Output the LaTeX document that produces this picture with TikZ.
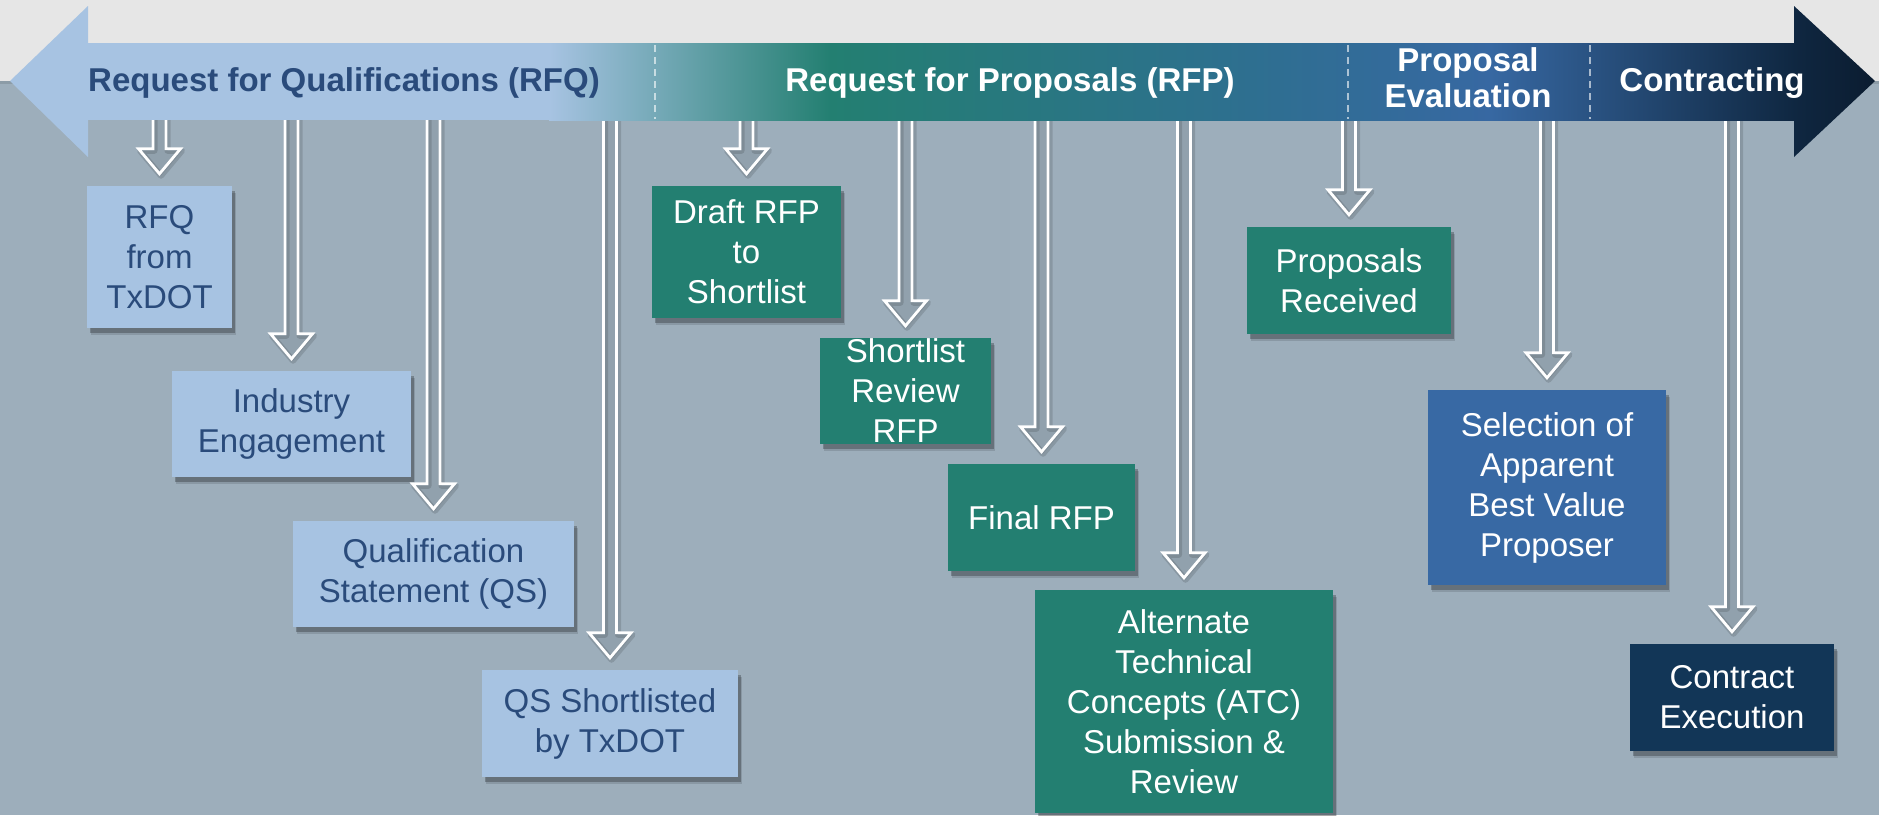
\documentclass[tikz,border=0pt]{standalone}
\usepackage{fontspec}
\setmainfont{Liberation Sans}
\usetikzlibrary{shadows,calc}
\definecolor{topgray}{HTML}{E6E6E6}
\definecolor{slate}{HTML}{9DAEBB}
\definecolor{lb}{HTML}{A7C3E2}
\definecolor{lbtext}{HTML}{2A4B7B}
\definecolor{teal}{HTML}{237F71}
\definecolor{steel}{HTML}{2E6F90}
\definecolor{evalb}{HTML}{3768A2}
\definecolor{navy}{HTML}{0F2741}
\definecolor{tipnavy}{HTML}{0B1C30}
\definecolor{selb}{HTML}{3869A4}
\definecolor{contr}{HTML}{123657}
\tikzset{
  boxbase/.style={rectangle, inner sep=0pt,
    drop shadow={shadow xshift=4pt, shadow yshift=-7pt, opacity=0.12, fill=black},
    drop shadow={shadow xshift=2.5pt, shadow yshift=-4.5pt, opacity=0.25, fill=black}},
  lbbox/.style={boxbase, fill=lb},
  tealbox/.style={boxbase, fill=teal},
  selbox/.style={boxbase, fill=selb},
  contrbox/.style={boxbase, fill=contr},
  btext/.style={align=center, font=\fontsize{33}{40}\selectfont},
  lbtxt/.style={btext, text=lbtext},
  wtxt/.style={btext, text=white},
  bandtxt/.style={font=\fontsize{33}{36}\selectfont\bfseries, align=center},
  ashadow/.style={draw=black, draw opacity=0.13, line width=6pt, fill=black, fill opacity=0.07, line join=round},
  aline/.style={draw=white, line width=2.8pt, line join=miter},
  sep/.style={draw=white, draw opacity=0.6, line width=1.3pt, dash pattern=on 7pt off 5pt}
}
\newcommand\harrow[1]{%
  \coordinate (#1t) at ([yshift=12pt]#1.north);
  \coordinate (#1s) at (#1.north |- bandb);
  \begin{scope}[transform canvas={xshift=1.5pt,yshift=-2pt}]
  \draw[ashadow] ([xshift=-6.5pt]#1s) -- ([xshift=-6.5pt,yshift=25pt]#1t) -- ([xshift=-21pt,yshift=25pt]#1t) -- (#1t) -- ([xshift=21pt,yshift=25pt]#1t) -- ([xshift=6.5pt,yshift=25pt]#1t) -- ([xshift=6.5pt]#1s) -- cycle;
  \end{scope}
  \draw[aline] ([xshift=-6.5pt]#1s) -- ([xshift=-6.5pt,yshift=25pt]#1t) -- ([xshift=-21pt,yshift=25pt]#1t) -- (#1t) -- ([xshift=21pt,yshift=25pt]#1t) -- ([xshift=6.5pt,yshift=25pt]#1t) -- ([xshift=6.5pt]#1s);
}
\begin{document}
\begin{tikzpicture}[x=1pt,y=-1pt]
\useasboundingbox (0,0) rectangle (1879,815);
% background
\fill[topgray] (0,0) rectangle (1879,81);
\fill[slate] (0,81) rectangle (1879,815);
\fill[black,opacity=0.1] (0,81) rectangle (1879,84);
\coordinate (bandb) at (0,110);

% boxes
\node[lbbox, minimum width=145pt, minimum height=142pt] (b1) at (159.5,257) {};
\node[lbbox, minimum width=239pt, minimum height=106pt] (b2) at (291.5,424) {};
\node[lbbox, minimum width=281pt, minimum height=106pt] (b3) at (433.5,574) {};
\node[lbbox, minimum width=256pt, minimum height=107pt] (b4) at (610,723.5) {};
\node[tealbox, minimum width=189pt, minimum height=132pt] (b5) at (746.5,252) {};
\node[tealbox, minimum width=171pt, minimum height=106pt] (b6) at (905.5,391) {};
\node[tealbox, minimum width=187pt, minimum height=107pt] (b7) at (1041.5,517.5) {};
\node[tealbox, minimum width=298pt, minimum height=223pt] (b8) at (1184,701.5) {};
\node[tealbox, minimum width=204pt, minimum height=107pt] (b9) at (1349,280.5) {};
\node[selbox, minimum width=238pt, minimum height=195pt] (b10) at (1547,487.5) {};
\node[contrbox, minimum width=204pt, minimum height=107pt] (b11) at (1732,697.5) {};

% box texts
\node[lbtxt] (t1) at (b1.center) {RFQ\\from\\TxDOT};
\node[lbtxt] (t2) at (b2.center) {Industry\\Engagement};
\node[lbtxt] (t3) at (b3.center) {Qualification\\Statement (QS)};
\node[lbtxt] (t4) at (b4.center) {QS Shortlisted\\by TxDOT};
\node[wtxt] (t5) at (b5.center) {Draft RFP\\to\\Shortlist};
\node[wtxt] (t6) at (b6.center) {Shortlist\\Review\\RFP};
\node[wtxt] (t7) at (b7.center) {Final RFP};
\node[wtxt] (t8) at (b8.center) {Alternate\\Technical\\Concepts (ATC)\\Submission \&\\Review};
\node[wtxt] (t9) at (b9.center) {Proposals\\Received};
\node[wtxt] (t10) at (b10.center) {Selection of\\Apparent\\Best Value\\Proposer};
\node[wtxt] (t11) at (b11.center) {Contract\\Execution};

% hollow arrows
\harrow{b1}\harrow{b2}\harrow{b3}\harrow{b4}\harrow{b5}\harrow{b6}
\harrow{b7}\harrow{b8}\harrow{b9}\harrow{b10}\harrow{b11}

% band
\fill[lb] (10,81) -- (88,6) -- (88,157) -- cycle;
\fill[lb] (87,43) rectangle (550,120);
\shade[left color=lb, right color=teal] (549,43) rectangle (831,120);
\shade[left color=teal, right color=steel] (830,43) rectangle (1251,120);
\shade[left color=steel, right color=evalb] (1250,43) rectangle (1491,120);
\shade[left color=evalb, right color=navy] (1490,43) rectangle (1795,120);
\shade[left color=navy, right color=tipnavy] (1794,6) -- (1875,81) -- (1794,157) -- cycle;

% separators
\draw[sep] (655,45) -- (655,119);
\draw[sep] (1348,45) -- (1348,119);
\draw[sep] (1590,45) -- (1590,119);

% band labels
\node[bandtxt, text=lbtext, anchor=base] (l1) at (344,91) {Request for Qualifications (RFQ)};
\node[bandtxt, text=white, anchor=base] (l2) at (1010,91) {Request for Proposals (RFP)};
\node[bandtxt, text=white] (l3) at (1468,78) {Proposal\\Evaluation};
\node[bandtxt, text=white, anchor=base] (l4) at (1712,91) {Contracting};
\end{tikzpicture}
\end{document}
